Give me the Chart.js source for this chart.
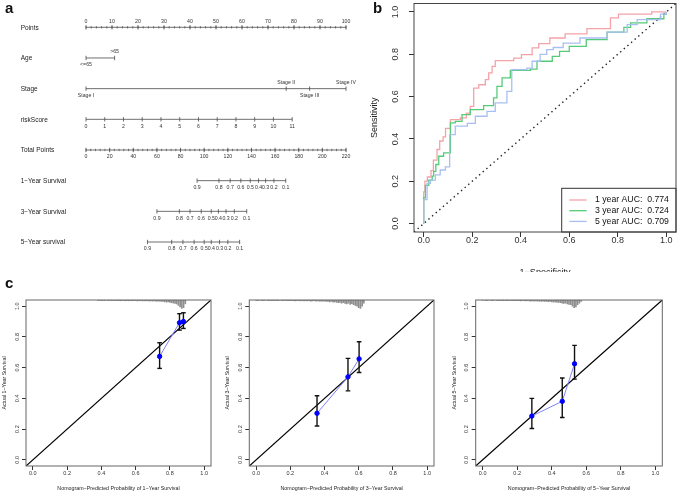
<!DOCTYPE html>
<html>
<head>
<meta charset="utf-8">
<title>Nomogram, ROC and calibration</title>
<script src="https://cdn.jsdelivr.net/npm/chart.js@4.4.1/dist/chart.umd.min.js"></script>
<style>
  html, body { margin: 0; padding: 0; background: #fff; }
  #fig { position: relative; width: 677px; height: 494px; overflow: hidden; font-family: "Liberation Sans", Arial, sans-serif; }
  #fig canvas { position: absolute; }
  .tag { position: absolute; font-weight: bold; font-size: 15px; line-height: 15px; color: #111; }
</style>
</head>
<body>
<div id="fig">
  <canvas id="nomo" width="360" height="290" style="left:0;top:0"></canvas>
  <canvas id="roc" width="317" height="272" style="left:360px;top:0"></canvas>
  <canvas id="cal1" width="222" height="202" style="left:0;top:292px"></canvas>
  <canvas id="cal3" width="230" height="202" style="left:222px;top:292px"></canvas>
  <canvas id="cal5" width="225" height="202" style="left:452px;top:292px"></canvas>
  <div class="tag" style="left:5px;top:0">a</div>
  <div class="tag" style="left:373px;top:0">b</div>
  <div class="tag" style="left:5px;top:275px">c</div>
</div>
<script>
// --- panel a: nomogram data ---
const nomoRowNames = ['Points', 'Age', 'Stage', 'riskScore', 'Total Points',
  '1\u2212Year Survival', '3\u2212Year Survival', '5\u2212Year survival'];
const pointTicks = [0, 10, 20, 30, 40, 50, 60, 70, 80, 90, 100];
const ageLabels = ['<=65', '>65'];
const agePoints = [0, 11];
const stageLabels = ['Stage I', 'Stage II', 'Stage III', 'Stage IV'];
const stagePoints = [0, 77, 86, 100];
const riskTicks = [0, 1, 2, 3, 4, 5, 6, 7, 8, 9, 10, 11];
const riskMaxPoints = 79.3;   // points given to riskScore = 11
const totalTicks = [0, 20, 40, 60, 80, 100, 120, 140, 160, 180, 200, 220];
const totalMax = 220;
const survLabels = ['0.9', '0.8', '0.7', '0.6', '0.5', '0.4', '0.3', '0.2', '0.1'];
const surv1Total = [94, 112.5, 122, 131, 139, 146, 152, 159, 169];
const surv3Total = [60, 79, 88, 97.5, 106, 112, 118.5, 125.5, 136];
const surv5Total = [52, 72.5, 82, 91.5, 100, 106, 113, 120, 130];

// --- panel b: ROC data ---
const rocLabels = ['1 year AUC:  0.774', '3 year AUC:  0.724', '5 year AUC:  0.709'];
const rocColors = ['#f4a3a9', '#55cb78', '#a9bff2'];
const fpr1 = [0, 0, 0.005, 0.015, 0.03, 0.04, 0.055, 0.066, 0.08, 0.09, 0.11, 0.151, 0.176, 0.192, 0.206, 0.227, 0.254, 0.268, 0.282, 0.295, 0.357, 0.371, 0.403, 0.447, 0.474, 0.52, 0.583, 0.673, 0.77, 0.803, 0.94, 1.0];
const tpr1 = [0, 0.15, 0.2, 0.22, 0.25, 0.30, 0.35, 0.39, 0.41, 0.45, 0.491, 0.499, 0.522, 0.554, 0.64, 0.656, 0.68, 0.712, 0.743, 0.77, 0.77, 0.782, 0.798, 0.83, 0.85, 0.877, 0.896, 0.921, 0.972, 0.99, 1.0, 1.0];
const fpr3 = [0, 0, 0.007, 0.021, 0.035, 0.041, 0.05, 0.062, 0.082, 0.11, 0.11, 0.13, 0.158, 0.192, 0.247, 0.288, 0.302, 0.323, 0.357, 0.44, 0.467, 0.53, 0.56, 0.6, 0.67, 0.756, 0.825, 0.853, 0.92, 0.99, 1.0];
const tpr3 = [0, 0.121, 0.18, 0.205, 0.224, 0.247, 0.279, 0.318, 0.334, 0.342, 0.476, 0.483, 0.515, 0.538, 0.557, 0.594, 0.648, 0.688, 0.724, 0.73, 0.767, 0.79, 0.814, 0.837, 0.869, 0.905, 0.927, 0.948, 0.968, 0.99, 1.0];
const fpr5 = [0, 0, 0.014, 0.028, 0.048, 0.068, 0.089, 0.107, 0.107, 0.13, 0.18, 0.213, 0.261, 0.295, 0.336, 0.343, 0.363, 0.425, 0.447, 0.48, 0.507, 0.534, 0.575, 0.644, 0.756, 0.839, 0.88, 0.976, 1.0];
const tpr5 = [0, 0.113, 0.19, 0.205, 0.23, 0.253, 0.268, 0.276, 0.42, 0.46, 0.473, 0.507, 0.53, 0.57, 0.57, 0.625, 0.727, 0.735, 0.767, 0.8, 0.822, 0.832, 0.853, 0.877, 0.905, 0.94, 0.964, 0.99, 1.0];

// --- panel c: calibration data ---
const calTicks = [0, 0.2, 0.4, 0.6, 0.8, 1.0];
const axisRange = [-0.04, 1.04];
const cal1Pred = [0.74, 0.856, 0.879];
const cal1Obs = [0.673, 0.892, 0.90];
const cal1Lo = [0.595, 0.844, 0.855];
const cal1Hi = [0.762, 0.951, 0.957];
const cal3Pred = [0.356, 0.537, 0.602];
const cal3Obs = [0.303, 0.54, 0.657];
const cal3Lo = [0.22, 0.449, 0.568];
const cal3Hi = [0.417, 0.66, 0.768];
const cal5Pred = [0.285, 0.461, 0.532];
const cal5Obs = [0.285, 0.381, 0.625];
const cal5Lo = [0.204, 0.276, 0.525];
const cal5Hi = [0.40, 0.533, 0.745];
// spike histograms of predicted probability, bins of 0.01 starting at histStart
const cal1HistStart = 0.38;
const cal1Hist = [.003, .003,
  .004, .003, .004, 0, .004, .003, .004, .004, .003, .004,
  .004, .005, .004, .003, .005, .004, .005, .004, .005, .005,
  .004, .006, .005, .005, .006, .005, .006, .005, .007, .006,
  .007, .006, .008, .007, .008, .009, .01, .012, .014, .012,
  .016, .018, .02, .022, .026, .035, .045, .055, .05, .025];
const cal3HistStart = 0;
const cal3Hist = [.003, .004, 0, .003, .004, .003, 0, .004, .003, .004,
  .004, .003, .005, .004, 0, .004, .005, .003, .004, .005,
  .004, .005, .004, .006, .005, .004, .006, .005, .006, .005,
  .006, .005, .007, .006, .005, .007, .006, .008, .007, .008,
  .008, .01, .009, .012, .01, .014, .012, .016, .018, .015,
  .02, .018, .022, .025, .02, .028, .024, .03, .035, .04,
  .05, .055, .04, .02];
const cal5HistStart = 0;
const cal5Hist = [.003, 0, .004, .003, 0, .003, .004, 0, .003, .004,
  .003, .004, .004, .003, .005, .004, .003, .005, .004, .005,
  .005, .004, .006, .005, .005, .006, .005, .006, .007, .006,
  .007, .006, .008, .007, .009, .008, .01, .009, .011, .01,
  .012, .014, .012, .016, .015, .018, .02, .022, .02, .025,
  .028, .03, .04, .05, .045, .03, .02, .01];

const FONT = '"Liberation Sans", Arial, sans-serif';
const INK = '#222';

function txt(ctx, s, x, y, size, o = {}) {
  ctx.save();
  ctx.font = `${size}px ${FONT}`;
  ctx.fillStyle = o.color || INK;
  ctx.textAlign = o.align || 'center';
  ctx.textBaseline = o.base || 'middle';
  ctx.translate(x, y);
  if (o.rot) ctx.rotate(o.rot);
  ctx.fillText(s, 0, 0);
  ctx.restore();
}

function boxPlugin(color) {
  return {
    id: 'box',
    afterDraw(chart) {
      const a = chart.chartArea, ctx = chart.ctx;
      ctx.save();
      ctx.strokeStyle = color;
      ctx.lineWidth = 1;
      ctx.strokeRect(a.left, a.top, a.right - a.left, a.bottom - a.top);
      ctx.restore();
    }
  };
}

// --- Nomogram ---
const toPts = t => t * 100 / totalMax;
const nomoRows = [
  { pos: pointTicks, labels: pointTicks.map(String), side: 'above', minor: 2 },
  { pos: agePoints, labels: ageLabels, side: ['below', 'above'] },
  { pos: stagePoints, labels: stageLabels, side: ['below', 'above', 'below', 'above'] },
  { pos: riskTicks.map(v => v * riskMaxPoints / riskTicks[riskTicks.length - 1]), labels: riskTicks.map(String), side: 'below' },
  { pos: totalTicks.map(toPts), labels: totalTicks.map(String), side: 'below', minor: toPts(4) },
  { pos: surv1Total.map(toPts), labels: survLabels, side: 'below' },
  { pos: surv3Total.map(toPts), labels: survLabels, side: 'below' },
  { pos: surv5Total.map(toPts), labels: survLabels, side: 'below' }
];

const nomoSets = [];
nomoRows.forEach((r, i) => {
  const lo = Math.min(...r.pos), hi = Math.max(...r.pos);
  nomoSets.push({ data: [{ x: lo, y: i }, { x: hi, y: i }], showLine: true, borderColor: '#4a4a4a',
    borderWidth: 0.8, pointRadius: 0, clip: false });
  nomoSets.push({ data: r.pos.map(x => ({ x, y: i })), pointStyle: 'line', pointRotation: 90, pointRadius: 2.2,
    pointBorderColor: '#4a4a4a', pointBorderWidth: 0.8, clip: false });
  if (r.minor) {
    const minor = [];
    for (let v = lo; v <= hi + 1e-6; v += r.minor) minor.push({ x: v, y: i });
    nomoSets.push({ data: minor, pointStyle: 'line', pointRotation: 90, pointRadius: 1.2,
      pointBorderColor: '#4a4a4a', pointBorderWidth: 0.7, clip: false });
  }
});

const nomoText = {
  id: 'nomoText',
  afterDatasetsDraw(chart) {
    const { ctx, scales: { x, y } } = chart;
    nomoRows.forEach((r, i) => {
      const py = y.getPixelForValue(i);
      txt(ctx, nomoRowNames[i], 20.7, py + 0.5, 6.5, { align: 'left' });
      r.pos.forEach((p, k) => {
        const side = Array.isArray(r.side) ? r.side[k] : r.side;
        txt(ctx, r.labels[k], x.getPixelForValue(p), py + (side === 'above' ? -6 : 7), 5.2, { color: '#333' });
      });
    });
  }
};

new Chart(document.getElementById('nomo'), {
  type: 'scatter',
  data: { datasets: nomoSets },
  options: {
    responsive: false, animation: false, events: [],
    layout: { padding: { left: 86, right: 14, top: 27.3, bottom: 48 } },
    scales: {
      x: { type: 'linear', min: 0, max: 100, display: false },
      y: { type: 'linear', min: 0, max: 7, reverse: true, display: false }
    },
    plugins: { legend: { display: false }, tooltip: { enabled: false } }
  },
  plugins: [nomoText]
});

// --- shared axis setup for boxed R-style plots ---
function boxAxes(yWidth, xHeight, tickLen) {
  const common = {
    type: 'linear', min: axisRange[0], max: axisRange[1], offset: false, beginAtZero: false,
    afterBuildTicks: s => { s.ticks = calTicks.map(v => ({ value: v })); },
    ticks: { display: false },
    grid: { drawOnChartArea: false, drawTicks: true, tickLength: tickLen, color: '#333', offset: false },
    border: { display: false }
  };
  return {
    x: { ...common, afterFit: s => { s.height = xHeight; } },
    y: { ...common, afterFit: s => { s.width = yWidth; } }
  };
}

// --- ROC ---
const rocSets = [[fpr1, tpr1], [fpr3, tpr3], [fpr5, tpr5]].map(([f, t], k) => ({
  label: rocLabels[k],
  data: f.map((x, i) => ({ x, y: t[i] })),
  showLine: true, stepped: 'before', borderColor: rocColors[k], borderWidth: 1.3,
  pointRadius: 0, order: 3 - k
}));
rocSets.push({ data: [{ x: axisRange[0], y: axisRange[0] }, { x: axisRange[1], y: axisRange[1] }],
  showLine: true, borderColor: '#222', borderWidth: 1.4, borderDash: [1.4, 3.4], pointRadius: 0, order: 5 });

const rocText = {
  id: 'rocText',
  afterDatasetsDraw(chart) {
    const { ctx, chartArea: a, scales: { x, y } } = chart;
    calTicks.forEach(v => {
      txt(ctx, v.toFixed(1), x.getPixelForValue(v), a.bottom + 9, 9, { color: '#333' });
      txt(ctx, v.toFixed(1), a.left - 18.3, y.getPixelForValue(v), 9, { color: '#333', rot: -Math.PI / 2 });
    });
    txt(ctx, 'Sensitivity', 15, (a.top + a.bottom) / 2, 9, { rot: -Math.PI / 2 });
    txt(ctx, '1\u2212Specificity', (a.left + a.right) / 2, 268, 9, { base: 'top' });
    // legend in bottom-right corner
    const L = a.right - 114.3, T = a.bottom - 43.7;
    ctx.save();
    ctx.fillStyle = '#fff';
    ctx.fillRect(L, T, a.right - L, a.bottom - T);
    ctx.strokeStyle = '#333';
    ctx.lineWidth = 1;
    ctx.strokeRect(L, T, a.right - L, a.bottom - T);
    chart.data.datasets.slice(0, 3).forEach((d, k) => {
      const ry = T + 11.7 + k * 10.7;
      ctx.strokeStyle = d.borderColor;
      ctx.lineWidth = 1.3;
      ctx.beginPath();
      ctx.moveTo(L + 7.6, ry);
      ctx.lineTo(L + 25, ry);
      ctx.stroke();
      txt(ctx, d.label, L + 33.3, ry, 8.7, { align: 'left', color: '#111' });
    });
    ctx.restore();
  }
};

new Chart(document.getElementById('roc'), {
  type: 'scatter',
  data: { datasets: rocSets },
  options: {
    responsive: false, animation: false, events: [],
    layout: { padding: { left: 0, right: 1, top: 3.5, bottom: 0 } },
    scales: boxAxes(54, 40, 5),
    plugins: { legend: { display: false }, tooltip: { enabled: false } }
  },
  plugins: [rocText, boxPlugin('#444')]
});

// --- calibration plots ---
function calChart(id, c) {
  const sets = [];
  sets.push({ data: c.pred.map((x, i) => ({ x, y: c.obs[i] })), showLine: true, borderColor: '#8080ff',
    borderWidth: 1, pointRadius: 2.2, pointBackgroundColor: '#0000ff', pointBorderColor: '#0000ff', order: 0 });
  c.pred.forEach((x, i) => sets.push({
    data: [{ x, y: c.lo[i] }, { x, y: c.hi[i] }], showLine: true, borderColor: '#111', borderWidth: 1.4,
    pointStyle: 'line', pointRadius: 2.3, pointBorderColor: '#111', pointBorderWidth: 1.4, order: 1
  }));
  sets.push({ data: [{ x: axisRange[0], y: axisRange[0] }, { x: axisRange[1], y: axisRange[1] }],
    showLine: true, borderColor: '#000', borderWidth: 1.2, pointRadius: 0, order: 2 });
  sets.push({ type: 'bar', data: c.hist.map((len, i) => ({ x: c.histStart + i / 100, y: [axisRange[1] - len, axisRange[1]] })),
    backgroundColor: '#8f8f8f', barThickness: 1, grouped: false, order: 3 });

  const text = {
    id: 'calText',
    afterDraw(chart) {
      const { ctx, chartArea: a, scales: { x, y } } = chart;
      calTicks.forEach(v => {
        txt(ctx, v.toFixed(1), x.getPixelForValue(v), a.bottom + 7.5, 5.5, { color: '#333' });
        txt(ctx, v.toFixed(1), a.left - 9, y.getPixelForValue(v), 5.5, { color: '#333', rot: -Math.PI / 2 });
      });
      txt(ctx, c.xTitle, (a.left + a.right) / 2, a.bottom + 23, 5.3);
      txt(ctx, c.yTitle, a.left - 21.5, (a.top + a.bottom) / 2, 5.3, { rot: -Math.PI / 2 });
    }
  };

  new Chart(document.getElementById(id), {
    type: 'scatter',
    data: { datasets: sets },
    options: {
      responsive: false, animation: false, events: [],
      layout: { padding: { left: 0, right: c.padR, top: 8, bottom: 0 } },
      scales: boxAxes(c.yW, 28, 4),
      plugins: { legend: { display: false }, tooltip: { enabled: false } }
    },
    plugins: [text, boxPlugin('#666')]
  });
}

calChart('cal1', { pred: cal1Pred, obs: cal1Obs, lo: cal1Lo, hi: cal1Hi, hist: cal1Hist, histStart: cal1HistStart,
  yW: 26, padR: 11, xTitle: 'Nomogram\u2212Predicted Probability of 1\u2212Year Survival', yTitle: 'Actual 1\u2212Year Survival' });
calChart('cal3', { pred: cal3Pred, obs: cal3Obs, lo: cal3Lo, hi: cal3Hi, hist: cal3Hist, histStart: cal3HistStart,
  yW: 27.3, padR: 18, xTitle: 'Nomogram\u2212Predicted Probability of 3\u2212Year Survival', yTitle: 'Actual 3\u2212Year Survival' });
calChart('cal5', { pred: cal5Pred, obs: cal5Obs, lo: cal5Lo, hi: cal5Hi, hist: cal5Hist, histStart: cal5HistStart,
  yW: 23.7, padR: 14.7, xTitle: 'Nomogram\u2212Predicted Probability of 5\u2212Year Survival', yTitle: 'Actual 5\u2212Year Survival' });
</script>
</body>
</html>
